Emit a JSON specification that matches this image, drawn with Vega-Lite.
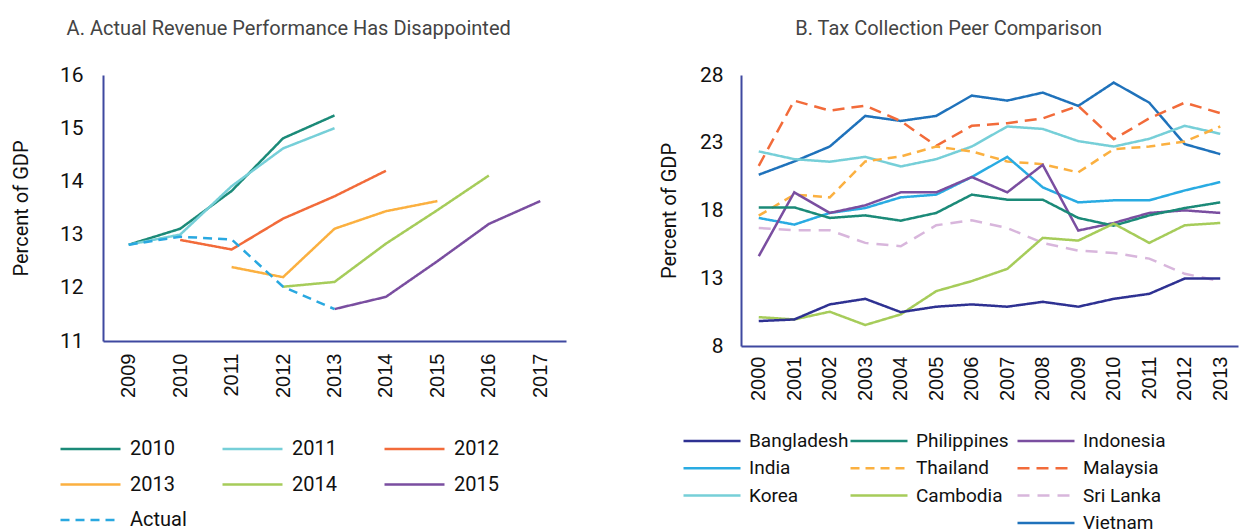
{
  "$schema": "https://vega.github.io/schema/vega-lite/v6.json",
  "padding": {"left": 11, "top": 19, "right": 5, "bottom": 0},
  "spacing": 93,
  "config": {
    "font": "Roboto",
    "view": {"stroke": null},
    "axis": {"grid": false, "ticks": false, "domainColor": "#3f48a0", "domainWidth": 2, "labelColor": "#111", "titleColor": "#111", "titleFontWeight": "normal"},
    "title": {"fontSize": 20, "fontWeight": "normal", "color": "#444", "anchor": "middle", "frame": "bounds", "offset": 25}
  },
  "datasets": {
    "left": [
      {"s": "2010", "year": 2009, "v": 12.81}, {"s": "2010", "year": 2010, "v": 13.11}, {"s": "2010", "year": 2011, "v": 13.82}, {"s": "2010", "year": 2012, "v": 14.81}, {"s": "2010", "year": 2013, "v": 15.24},
      {"s": "2011", "year": 2009, "v": 12.81}, {"s": "2011", "year": 2010, "v": 13.0}, {"s": "2011", "year": 2011, "v": 13.91}, {"s": "2011", "year": 2012, "v": 14.62}, {"s": "2011", "year": 2013, "v": 15.0},
      {"s": "2012", "year": 2010, "v": 12.9}, {"s": "2012", "year": 2011, "v": 12.72}, {"s": "2012", "year": 2012, "v": 13.3}, {"s": "2012", "year": 2013, "v": 13.72}, {"s": "2012", "year": 2014, "v": 14.2},
      {"s": "2013", "year": 2011, "v": 12.39}, {"s": "2013", "year": 2012, "v": 12.2}, {"s": "2013", "year": 2013, "v": 13.11}, {"s": "2013", "year": 2014, "v": 13.44}, {"s": "2013", "year": 2015, "v": 13.63},
      {"s": "2014", "year": 2012, "v": 12.02}, {"s": "2014", "year": 2013, "v": 12.11}, {"s": "2014", "year": 2014, "v": 12.83}, {"s": "2014", "year": 2015, "v": 13.46}, {"s": "2014", "year": 2016, "v": 14.11},
      {"s": "2015", "year": 2013, "v": 11.6}, {"s": "2015", "year": 2014, "v": 11.83}, {"s": "2015", "year": 2015, "v": 12.5}, {"s": "2015", "year": 2016, "v": 13.2}, {"s": "2015", "year": 2017, "v": 13.63},
      {"s": "Actual", "year": 2009, "v": 12.81}, {"s": "Actual", "year": 2010, "v": 12.96}, {"s": "Actual", "year": 2011, "v": 12.91}, {"s": "Actual", "year": 2012, "v": 12.02}, {"s": "Actual", "year": 2013, "v": 11.6}
    ],
    "right": [
      {"c": "Vietnam", "year": 2000, "v": 20.64}, {"c": "Vietnam", "year": 2001, "v": 21.62}, {"c": "Vietnam", "year": 2002, "v": 22.72}, {"c": "Vietnam", "year": 2003, "v": 24.98}, {"c": "Vietnam", "year": 2004, "v": 24.61}, {"c": "Vietnam", "year": 2005, "v": 24.98}, {"c": "Vietnam", "year": 2006, "v": 26.48}, {"c": "Vietnam", "year": 2007, "v": 26.11}, {"c": "Vietnam", "year": 2008, "v": 26.7}, {"c": "Vietnam", "year": 2009, "v": 25.72}, {"c": "Vietnam", "year": 2010, "v": 27.44}, {"c": "Vietnam", "year": 2011, "v": 25.96}, {"c": "Vietnam", "year": 2012, "v": 22.9}, {"c": "Vietnam", "year": 2013, "v": 22.16},
      {"c": "Malaysia", "year": 2000, "v": 21.3}, {"c": "Malaysia", "year": 2001, "v": 26.11}, {"c": "Malaysia", "year": 2002, "v": 25.37}, {"c": "Malaysia", "year": 2003, "v": 25.74}, {"c": "Malaysia", "year": 2004, "v": 24.6}, {"c": "Malaysia", "year": 2005, "v": 22.77}, {"c": "Malaysia", "year": 2006, "v": 24.25}, {"c": "Malaysia", "year": 2007, "v": 24.44}, {"c": "Malaysia", "year": 2008, "v": 24.8}, {"c": "Malaysia", "year": 2009, "v": 25.72}, {"c": "Malaysia", "year": 2010, "v": 23.26}, {"c": "Malaysia", "year": 2011, "v": 24.8}, {"c": "Malaysia", "year": 2012, "v": 25.96}, {"c": "Malaysia", "year": 2013, "v": 25.18},
      {"c": "Korea", "year": 2000, "v": 22.36}, {"c": "Korea", "year": 2001, "v": 21.79}, {"c": "Korea", "year": 2002, "v": 21.6}, {"c": "Korea", "year": 2003, "v": 21.96}, {"c": "Korea", "year": 2004, "v": 21.25}, {"c": "Korea", "year": 2005, "v": 21.79}, {"c": "Korea", "year": 2006, "v": 22.72}, {"c": "Korea", "year": 2007, "v": 24.2}, {"c": "Korea", "year": 2008, "v": 24.02}, {"c": "Korea", "year": 2009, "v": 23.12}, {"c": "Korea", "year": 2010, "v": 22.72}, {"c": "Korea", "year": 2011, "v": 23.29}, {"c": "Korea", "year": 2012, "v": 24.25}, {"c": "Korea", "year": 2013, "v": 23.66},
      {"c": "Thailand", "year": 2000, "v": 17.62}, {"c": "Thailand", "year": 2001, "v": 19.17}, {"c": "Thailand", "year": 2002, "v": 18.97}, {"c": "Thailand", "year": 2003, "v": 21.62}, {"c": "Thailand", "year": 2004, "v": 21.99}, {"c": "Thailand", "year": 2005, "v": 22.72}, {"c": "Thailand", "year": 2006, "v": 22.36}, {"c": "Thailand", "year": 2007, "v": 21.62}, {"c": "Thailand", "year": 2008, "v": 21.42}, {"c": "Thailand", "year": 2009, "v": 20.81}, {"c": "Thailand", "year": 2010, "v": 22.53}, {"c": "Thailand", "year": 2011, "v": 22.72}, {"c": "Thailand", "year": 2012, "v": 23.09}, {"c": "Thailand", "year": 2013, "v": 24.2},
      {"c": "India", "year": 2000, "v": 17.45}, {"c": "India", "year": 2001, "v": 16.96}, {"c": "India", "year": 2002, "v": 17.82}, {"c": "India", "year": 2003, "v": 18.18}, {"c": "India", "year": 2004, "v": 18.97}, {"c": "India", "year": 2005, "v": 19.17}, {"c": "India", "year": 2006, "v": 20.47}, {"c": "India", "year": 2007, "v": 21.96}, {"c": "India", "year": 2008, "v": 19.71}, {"c": "India", "year": 2009, "v": 18.6}, {"c": "India", "year": 2010, "v": 18.75}, {"c": "India", "year": 2011, "v": 18.75}, {"c": "India", "year": 2012, "v": 19.48}, {"c": "India", "year": 2013, "v": 20.1},
      {"c": "Indonesia", "year": 2000, "v": 14.63}, {"c": "Indonesia", "year": 2001, "v": 19.34}, {"c": "Indonesia", "year": 2002, "v": 17.82}, {"c": "Indonesia", "year": 2003, "v": 18.38}, {"c": "Indonesia", "year": 2004, "v": 19.34}, {"c": "Indonesia", "year": 2005, "v": 19.34}, {"c": "Indonesia", "year": 2006, "v": 20.47}, {"c": "Indonesia", "year": 2007, "v": 19.34}, {"c": "Indonesia", "year": 2008, "v": 21.37}, {"c": "Indonesia", "year": 2009, "v": 16.52}, {"c": "Indonesia", "year": 2010, "v": 17.08}, {"c": "Indonesia", "year": 2011, "v": 17.82}, {"c": "Indonesia", "year": 2012, "v": 18.01}, {"c": "Indonesia", "year": 2013, "v": 17.82},
      {"c": "Philippines", "year": 2000, "v": 18.23}, {"c": "Philippines", "year": 2001, "v": 18.23}, {"c": "Philippines", "year": 2002, "v": 17.45}, {"c": "Philippines", "year": 2003, "v": 17.64}, {"c": "Philippines", "year": 2004, "v": 17.25}, {"c": "Philippines", "year": 2005, "v": 17.82}, {"c": "Philippines", "year": 2006, "v": 19.17}, {"c": "Philippines", "year": 2007, "v": 18.8}, {"c": "Philippines", "year": 2008, "v": 18.8}, {"c": "Philippines", "year": 2009, "v": 17.45}, {"c": "Philippines", "year": 2010, "v": 16.88}, {"c": "Philippines", "year": 2011, "v": 17.64}, {"c": "Philippines", "year": 2012, "v": 18.18}, {"c": "Philippines", "year": 2013, "v": 18.6},
      {"c": "Sri Lanka", "year": 2000, "v": 16.71}, {"c": "Sri Lanka", "year": 2001, "v": 16.54}, {"c": "Sri Lanka", "year": 2002, "v": 16.54}, {"c": "Sri Lanka", "year": 2003, "v": 15.61}, {"c": "Sri Lanka", "year": 2004, "v": 15.36}, {"c": "Sri Lanka", "year": 2005, "v": 16.91}, {"c": "Sri Lanka", "year": 2006, "v": 17.28}, {"c": "Sri Lanka", "year": 2007, "v": 16.71}, {"c": "Sri Lanka", "year": 2008, "v": 15.61}, {"c": "Sri Lanka", "year": 2009, "v": 15.04}, {"c": "Sri Lanka", "year": 2010, "v": 14.87}, {"c": "Sri Lanka", "year": 2011, "v": 14.45}, {"c": "Sri Lanka", "year": 2012, "v": 13.33}, {"c": "Sri Lanka", "year": 2013, "v": 12.79},
      {"c": "Cambodia", "year": 2000, "v": 10.13}, {"c": "Cambodia", "year": 2001, "v": 9.96}, {"c": "Cambodia", "year": 2002, "v": 10.53}, {"c": "Cambodia", "year": 2003, "v": 9.55}, {"c": "Cambodia", "year": 2004, "v": 10.33}, {"c": "Cambodia", "year": 2005, "v": 12.05}, {"c": "Cambodia", "year": 2006, "v": 12.79}, {"c": "Cambodia", "year": 2007, "v": 13.69}, {"c": "Cambodia", "year": 2008, "v": 15.98}, {"c": "Cambodia", "year": 2009, "v": 15.78}, {"c": "Cambodia", "year": 2010, "v": 17.03}, {"c": "Cambodia", "year": 2011, "v": 15.61}, {"c": "Cambodia", "year": 2012, "v": 16.91}, {"c": "Cambodia", "year": 2013, "v": 17.08},
      {"c": "Bangladesh", "year": 2000, "v": 9.84}, {"c": "Bangladesh", "year": 2001, "v": 9.96}, {"c": "Bangladesh", "year": 2002, "v": 11.07}, {"c": "Bangladesh", "year": 2003, "v": 11.48}, {"c": "Bangladesh", "year": 2004, "v": 10.5}, {"c": "Bangladesh", "year": 2005, "v": 10.9}, {"c": "Bangladesh", "year": 2006, "v": 11.07}, {"c": "Bangladesh", "year": 2007, "v": 10.9}, {"c": "Bangladesh", "year": 2008, "v": 11.26}, {"c": "Bangladesh", "year": 2009, "v": 10.9}, {"c": "Bangladesh", "year": 2010, "v": 11.48}, {"c": "Bangladesh", "year": 2011, "v": 11.85}, {"c": "Bangladesh", "year": 2012, "v": 12.98}, {"c": "Bangladesh", "year": 2013, "v": 12.98}
    ]
  },
  "hconcat": [
    {
      "title": "A. Actual Revenue Performance Has Disappointed",
      "width": 463,
      "height": 266,
      "data": {"name": "left"},
      "mark": {"type": "line", "strokeWidth": 2.5},
      "encoding": {
        "x": {"field": "year", "type": "ordinal", "title": null,
              "axis": {"labelAngle": -90, "labelFont": "Liberation Sans", "labelFontSize": 20, "labelPadding": 12}},
        "y": {"field": "v", "type": "quantitative", "title": "Percent of GDP",
              "scale": {"domain": [11, 16], "nice": false, "zero": false},
              "axis": {"values": [11, 12, 13, 14, 15, 16], "labelFontSize": 21, "labelPadding": 20, "titleFontSize": 20, "titlePadding": 28}},
        "color": {"field": "s", "type": "nominal",
                  "scale": {"domain": ["2010", "2011", "2012", "2013", "2014", "2015", "Actual"],
                            "range": ["#1b8a78", "#76cfd8", "#f26b3a", "#fbb040", "#a6cc5a", "#7a4ea0", "#29a8e0"]},
                  "legend": {"title": null, "orient": "none", "direction": "horizontal", "legendX": -44, "legendY": 364, "columns": 3, "gridAlign": "all", "symbolType": "stroke", "symbolSize": 3600, "symbolStrokeWidth": 2.5, "clipHeight": 20, "labelFontSize": 20, "labelColor": "#111", "labelOffset": 8, "columnPadding": 34, "rowPadding": 15.5, "labelLimit": 200}},
        "strokeDash": {"field": "s", "type": "nominal",
                  "scale": {"domain": ["2010", "2011", "2012", "2013", "2014", "2015", "Actual"],
                            "range": [[1, 0], [1, 0], [1, 0], [1, 0], [1, 0], [1, 0], [9, 6]]},
                  "legend": {"title": null, "orient": "none", "direction": "horizontal", "legendX": -44, "legendY": 364, "columns": 3, "gridAlign": "all", "symbolType": "stroke", "symbolSize": 3600, "symbolStrokeWidth": 2.5, "clipHeight": 20, "labelFontSize": 20, "labelColor": "#111", "labelOffset": 8, "columnPadding": 34, "rowPadding": 15.5, "labelLimit": 200}}
      }
    },
    {
      "title": "B. Tax Collection Peer Comparison",
      "width": 497,
      "height": 271,
      "data": {"name": "right"},
      "mark": {"type": "line", "strokeWidth": 2.5},
      "encoding": {
        "x": {"field": "year", "type": "ordinal", "title": null,
              "axis": {"labelAngle": -90, "labelFont": "Liberation Sans", "labelFontSize": 20, "labelPadding": 10}},
        "y": {"field": "v", "type": "quantitative", "title": "Percent of GDP",
              "scale": {"domain": [8, 28], "nice": false, "zero": false},
              "axis": {"values": [8, 13, 18, 23, 28], "labelFontSize": 21, "labelPadding": 18, "titleFontSize": 20, "titlePadding": 20}},
        "color": {"field": "c", "type": "nominal",
                  "scale": {"domain": ["Bangladesh", "Philippines", "Indonesia", "India", "Thailand", "Malaysia", "Korea", "Cambodia", "Sri Lanka", " ", "  ", "Vietnam"],
                            "range": ["#2e3192", "#1b8a78", "#7a4ea0", "#29abe2", "#fbb040", "#f26b3a", "#76cfd8", "#a6cc5a", "#d8b6dc", "transparent", "transparent", "#1f72bb"]},
                  "legend": {"title": null, "orient": "none", "direction": "horizontal", "legendX": -59, "legendY": 356, "columns": 3, "gridAlign": "all", "symbolType": "stroke", "symbolSize": 3249, "symbolStrokeWidth": 2.5, "clipHeight": 20, "labelFontSize": 19, "labelColor": "#111", "labelOffset": 7, "columnPadding": -2, "rowPadding": 7.3, "labelLimit": 200}},
        "strokeDash": {"field": "c", "type": "nominal",
                  "scale": {"domain": ["Bangladesh", "Philippines", "Indonesia", "India", "Thailand", "Malaysia", "Korea", "Cambodia", "Sri Lanka", " ", "  ", "Vietnam"],
                            "range": [[1, 0], [1, 0], [1, 0], [1, 0], [9, 6], [12, 7], [1, 0], [1, 0], [12, 8], [1, 0], [1, 0], [1, 0]]},
                  "legend": {"title": null, "orient": "none", "direction": "horizontal", "legendX": -59, "legendY": 356, "columns": 3, "gridAlign": "all", "symbolType": "stroke", "symbolSize": 3249, "symbolStrokeWidth": 2.5, "clipHeight": 20, "labelFontSize": 19, "labelColor": "#111", "labelOffset": 7, "columnPadding": -2, "rowPadding": 7.3, "labelLimit": 200}}
      }
    }
  ],
  "resolve": {"scale": {"color": "independent", "strokeDash": "independent"}}
}
